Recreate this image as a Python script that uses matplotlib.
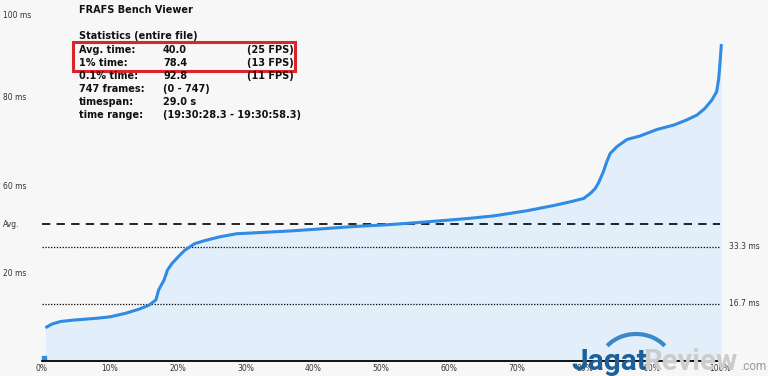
import matplotlib
matplotlib.use("Agg")
import matplotlib.pyplot as plt
from matplotlib.patches import Rectangle, Arc
from matplotlib.transforms import blended_transform_factory

# sorted frame times: percentile of frames (%) vs frame time (ms)
pct = [0.5, 1.5, 2.7, 4.5, 6.4, 8.3, 10.1, 12.3, 14.3, 15.8, 16.8, 17.2, 18.0,
       18.5, 19.2, 20.2, 21.0, 22.5, 24.0, 26.2, 28.7, 32.6, 36.5, 41.0, 45.9,
       50.8, 55.7, 60.7, 63.1, 66.6, 71.5, 75.4, 77.9, 79.9, 80.9, 81.6, 82.1,
       82.8, 83.3, 83.8, 84.8, 86.3, 88.2, 90.7, 93.2, 95.1, 96.6, 97.8, 98.8,
       99.5, 99.8, 100.0, 100.2]
frame_ms = [9.7, 10.8, 11.5, 11.9, 12.2, 12.5, 12.9, 13.9, 15.1, 16.3, 17.8, 20.7, 23.6,
            26.5, 28.5, 30.6, 32.2, 34.2, 35.1, 36.2, 37.1, 37.5, 37.9, 38.5, 39.2,
            39.7, 40.4, 41.2, 41.6, 42.3, 43.8, 45.3, 46.4, 47.4, 48.9, 50.3, 52.0,
            55.2, 58.1, 60.5, 62.5, 64.6, 65.6, 67.5, 68.8, 70.3, 71.7, 73.7, 76.1,
            78.5, 82.1, 86.8, 92.4]
first_pct = [0.3]
first_ms = [0.9]

avg_ms = 40.0
ref_lines = [33.3, 16.7]
ref_labels = ["33.3 ms", "16.7 ms"]

# y labels sit where the viewer draws them (its label scale is off from the data scale)
ytick_pos = [25.7, avg_ms, 51.3, 77.1, 100.9]
ytick_lab = ["20 ms", "Avg.", "60 ms", "80 ms", "100 ms"]
xtick_pos = list(range(0, 101, 10))
xtick_lab = [f"{v}%" for v in xtick_pos]

stats_rows = [
    ("Avg. time:", "40.0", "(25 FPS)"),
    ("1% time:", "78.4", "(13 FPS)"),
    ("0.1% time:", "92.8", "(11 FPS)"),
    ("747 frames:", "(0 - 747)", ""),
    ("timespan:", "29.0 s", ""),
    ("time range:", "(19:30:28.3 - 19:30:58.3)", ""),
]

W, H = 768, 376
fig = plt.figure(figsize=(W / 100, H / 100), dpi=100)
fig.patch.set_facecolor("#f7f7f7")

ax = fig.add_axes([42 / W, (H - 361) / H, (720 - 42) / W, 361 / H])
ax.set_facecolor("none")
ax.set_xlim(0, 100)
ax.set_ylim(0, 361 / 3.43)

curve_col = "#2f8be4"
ax.fill_between(pct, frame_ms, 0, color="#e2eef9", lw=0, zorder=1, clip_on=False)
ax.plot(pct, frame_ms, color=curve_col, lw=2.2, solid_capstyle="butt", zorder=4, clip_on=False)
ax.plot(first_pct, first_ms, "s", color=curve_col, ms=2.2, zorder=4, clip_on=False)

ax.axhline(avg_ms, color="black", lw=1.2, ls=(0, (5, 3.75)), zorder=3)
bt = blended_transform_factory(ax.transAxes, ax.transData)
for v, lab in zip(ref_lines, ref_labels):
    ax.axhline(v, color="black", lw=0.9, ls=(0, (1, 1.3)), zorder=3)
    ax.text(1.013, v, lab, transform=bt, fontsize=5.5, color="#333333", va="center", ha="left")

for s in ["left", "right", "top"]:
    ax.spines[s].set_visible(False)
ax.spines["bottom"].set_linewidth(1.3)
ax.spines["bottom"].set_zorder(5)

ax.set_xticks(xtick_pos)
ax.set_xticklabels(xtick_lab, fontsize=5.5, color="#333333")
ax.set_yticks(ytick_pos)
ax.set_yticklabels(ytick_lab, fontsize=5.5, color="#333333")
ax.tick_params(axis="x", length=0, pad=2)
ax.tick_params(axis="y", length=0, pad=28)
for t in ax.get_yticklabels():
    t.set_ha("left")

# overlay in pixel coordinates for the header text, box and watermark
ov = fig.add_axes([0, 0, 1, 1], zorder=10)
ov.set_xlim(0, W)
ov.set_ylim(H, 0)
ov.axis("off")
ov.patch.set_visible(False)

txt = dict(fontsize=7, fontweight="bold", color="#111111", va="center", ha="left")
ov.text(79, 10, "FRAFS Bench Viewer", **txt)
ov.text(79, 36, "Statistics (entire file)", **txt)
for i, (a, b, c) in enumerate(stats_rows):
    y = 50 + i * 13.1
    ov.text(79, y, a, **txt)
    ov.text(163, y, b, **txt)
    if c:
        ov.text(247, y, c, **txt)

ov.add_patch(Rectangle((73, 42), 222, 29, fill=False, ec="#d7262c", lw=2.2))

# JagatReview watermark
ov.add_patch(Arc((636, 366), 74, 64, theta1=215, theta2=325, color="#3a88c8", lw=3.0))
ov.text(571, 370, "Jagat", fontsize=21.5, fontweight="bold", color="#1d5f9a",
        family="Roboto", ha="left", va="baseline")
ov.text(643, 370, "Review", fontsize=21, fontweight="bold", color="#cccccc",
        family="Roboto", ha="left", va="baseline")
ov.text(740, 370, ".com", fontsize=8.5, color="#9a9a9a", family="Roboto",
        ha="left", va="baseline")

fig.savefig("out.png", dpi=100, facecolor=fig.get_facecolor())
